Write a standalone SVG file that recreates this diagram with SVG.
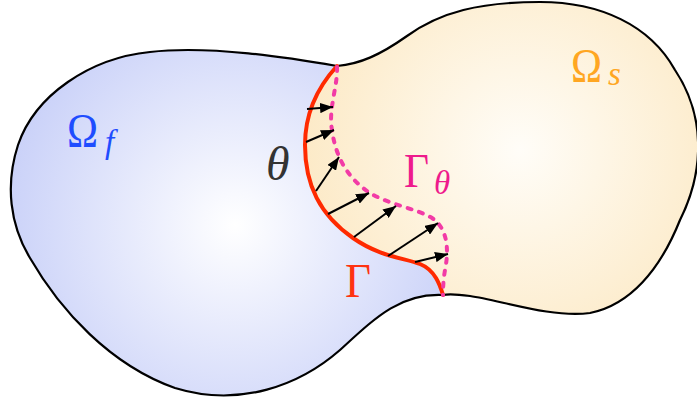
<svg xmlns="http://www.w3.org/2000/svg" width="697" height="400" viewBox="0 0 697 400">
<style>
.lbl{font-family:"Liberation Serif","DejaVu Serif",serif;font-size:48px}
.sub{font-family:"Liberation Serif","DejaVu Serif",serif;font-size:33px;font-style:italic}
.it{font-style:italic}
.outline{fill:none;stroke:#000;stroke-width:2.2;stroke-linejoin:round}
.arr{stroke:#000;stroke-width:2;fill:none;marker-end:url(#ah)}
</style>
<defs>
<radialGradient id="gf" gradientUnits="userSpaceOnUse" cx="235" cy="225" r="250">
<stop offset="0" stop-color="#ffffff"/>
<stop offset="1" stop-color="#c6cef8"/>
</radialGradient>
<radialGradient id="gs" gradientUnits="userSpaceOnUse" cx="520" cy="150" r="240">
<stop offset="0" stop-color="#fffdf8"/>
<stop offset="1" stop-color="#fce8c2"/>
</radialGradient>
<marker id="ah" viewBox="0 0 10 8" refX="10" refY="4" markerWidth="6.5" markerHeight="5.2" orient="auto" markerUnits="strokeWidth">
<path d="M0,0 L10,4 L0,8 Z" fill="#000"/>
</marker>
</defs>
<g id="fluid">
<path d="M337,66 C290,58 210,45 150,52 C90,58 35,95 18,145 C5,185 10,225 30,258 C60,310 110,365 175,388 C240,408 300,385 340,350 C375,318 400,293 443,295 C440,285 435,270 420,264 C405,258 380,257 353,238 C320,215 305,185 305,145 C305,115 315,90 337,66 Z" fill="url(#gf)"/>
</g>
<g id="solid">
<path d="M337,66 C360,64 380,55 407,36 C440,12 480,2 540,2 C600,2 650,25 675,70 C705,115 705,170 680,220 C660,270 630,305 590,313 C550,318 500,300 470,296 C455,294 448,294 443,295 C440,285 435,270 420,264 C405,258 380,257 353,238 C320,215 305,185 305,145 C305,115 315,90 337,66 Z" fill="url(#gs)"/>
</g>
<g id="boundary">
<path class="outline" d="M337,66 C290,58 210,45 150,52 C90,58 35,95 18,145 C5,185 10,225 30,258 C60,310 110,365 175,388 C240,408 300,385 340,350 C375,318 400,293 443,295 C448,294 455,294 470,296 C500,300 550,318 590,313 C630,305 660,270 680,220 C705,170 705,115 675,70 C650,25 600,2 540,2 C480,2 440,12 407,36 C380,55 360,64 337,66 Z"/>
</g>
<g id="gamma">
<path d="M337,66 C315,90 305,115 305,145 C305,185 320,215 353,238 C380,257 405,258 420,264 C435,270 440,285 443,295" fill="none" stroke="#ff2a00" stroke-width="4" stroke-linecap="round"/>
</g>
<g id="gamma-theta">
<path d="M337,67 C338,85 328,110 332,130 C336,160 350,180 370,193 C390,205 415,208 432,218 C450,230 448,255 445,270 C443,282 443,290 443,295" fill="none" stroke="#f23ba6" stroke-width="4" stroke-linecap="round" stroke-dasharray="4 8"/>
</g>
<g id="connectors">
<line class="arr" x1="307" y1="109" x2="333" y2="107"/>
<line class="arr" x1="306" y1="142" x2="334" y2="130"/>
<line class="arr" x1="316" y1="191" x2="339" y2="157"/>
<line class="arr" x1="328" y1="214" x2="369" y2="193"/>
<line class="arr" x1="354" y1="237" x2="396" y2="206"/>
<line class="arr" x1="388" y1="256" x2="438" y2="223"/>
<line class="arr" x1="415" y1="262" x2="448" y2="254"/>
</g>
<g id="label-omega-f" fill="#1f4dff">
<text class="lbl" x="67" y="147" textLength="31" lengthAdjust="spacingAndGlyphs">Ω</text>
<text class="sub" x="105" y="153">f</text>
</g>
<g id="label-omega-s" fill="#ffa622">
<text class="lbl" x="571" y="82" textLength="31" lengthAdjust="spacingAndGlyphs">Ω</text>
<text class="sub" x="608" y="85">s</text>
</g>
<g id="label-theta" fill="#333333">
<text class="lbl it" x="266" y="180">θ</text>
</g>
<g id="label-gamma-theta" fill="#ee1a8c">
<text class="lbl" x="404" y="187" textLength="25" lengthAdjust="spacingAndGlyphs">Γ</text>
<text class="sub" x="434" y="194">θ</text>
</g>
<g id="label-gamma" fill="#ff3311">
<text class="lbl" x="345" y="297" textLength="26" lengthAdjust="spacingAndGlyphs">Γ</text>
</g>
</svg>
